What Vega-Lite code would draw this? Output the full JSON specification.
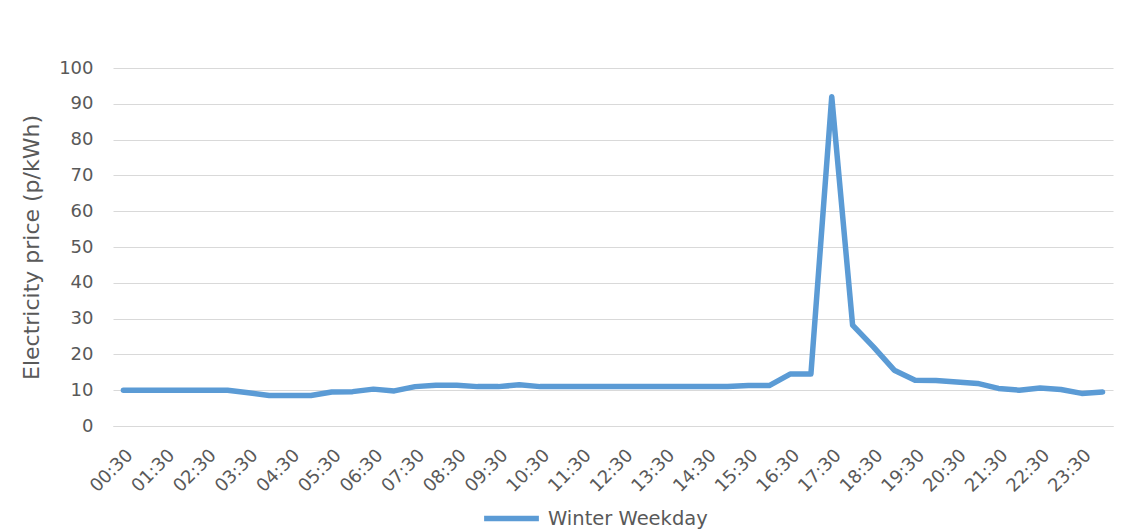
{
  "$schema": "https://vega.github.io/schema/vega-lite/v6.json",
  "autosize": {"type": "none"},
  "width": 1000,
  "height": 358,
  "padding": {"left": 113, "top": 68, "right": 21, "bottom": 105},
  "background": "white",
  "config": {
    "view": {"stroke": null},
    "font": "DejaVu Sans",
    "axis": {"labelColor": "#595959", "titleColor": "#595959", "gridColor": "#d9d9d9", "ticks": false}
  },
  "data": {
    "values": [
      {"time": "00:30", "price": 10.0, "series": "Winter Weekday"},
      {"time": "01:00", "price": 10.0, "series": "Winter Weekday"},
      {"time": "01:30", "price": 10.0, "series": "Winter Weekday"},
      {"time": "02:00", "price": 10.0, "series": "Winter Weekday"},
      {"time": "02:30", "price": 10.0, "series": "Winter Weekday"},
      {"time": "03:00", "price": 10.0, "series": "Winter Weekday"},
      {"time": "03:30", "price": 9.3, "series": "Winter Weekday"},
      {"time": "04:00", "price": 8.5, "series": "Winter Weekday"},
      {"time": "04:30", "price": 8.5, "series": "Winter Weekday"},
      {"time": "05:00", "price": 8.5, "series": "Winter Weekday"},
      {"time": "05:30", "price": 9.5, "series": "Winter Weekday"},
      {"time": "06:00", "price": 9.6, "series": "Winter Weekday"},
      {"time": "06:30", "price": 10.3, "series": "Winter Weekday"},
      {"time": "07:00", "price": 9.8, "series": "Winter Weekday"},
      {"time": "07:30", "price": 11.0, "series": "Winter Weekday"},
      {"time": "08:00", "price": 11.4, "series": "Winter Weekday"},
      {"time": "08:30", "price": 11.4, "series": "Winter Weekday"},
      {"time": "09:00", "price": 11.0, "series": "Winter Weekday"},
      {"time": "09:30", "price": 11.0, "series": "Winter Weekday"},
      {"time": "10:00", "price": 11.5, "series": "Winter Weekday"},
      {"time": "10:30", "price": 11.0, "series": "Winter Weekday"},
      {"time": "11:00", "price": 11.0, "series": "Winter Weekday"},
      {"time": "11:30", "price": 11.0, "series": "Winter Weekday"},
      {"time": "12:00", "price": 11.0, "series": "Winter Weekday"},
      {"time": "12:30", "price": 11.0, "series": "Winter Weekday"},
      {"time": "13:00", "price": 11.0, "series": "Winter Weekday"},
      {"time": "13:30", "price": 11.0, "series": "Winter Weekday"},
      {"time": "14:00", "price": 11.0, "series": "Winter Weekday"},
      {"time": "14:30", "price": 11.0, "series": "Winter Weekday"},
      {"time": "15:00", "price": 11.0, "series": "Winter Weekday"},
      {"time": "15:30", "price": 11.3, "series": "Winter Weekday"},
      {"time": "16:00", "price": 11.3, "series": "Winter Weekday"},
      {"time": "16:30", "price": 14.5, "series": "Winter Weekday"},
      {"time": "17:00", "price": 14.5, "series": "Winter Weekday"},
      {"time": "17:30", "price": 92.0, "series": "Winter Weekday"},
      {"time": "18:00", "price": 28.2, "series": "Winter Weekday"},
      {"time": "18:30", "price": 22.1, "series": "Winter Weekday"},
      {"time": "19:00", "price": 15.6, "series": "Winter Weekday"},
      {"time": "19:30", "price": 12.8, "series": "Winter Weekday"},
      {"time": "20:00", "price": 12.7, "series": "Winter Weekday"},
      {"time": "20:30", "price": 12.3, "series": "Winter Weekday"},
      {"time": "21:00", "price": 11.9, "series": "Winter Weekday"},
      {"time": "21:30", "price": 10.5, "series": "Winter Weekday"},
      {"time": "22:00", "price": 10.0, "series": "Winter Weekday"},
      {"time": "22:30", "price": 10.6, "series": "Winter Weekday"},
      {"time": "23:00", "price": 10.2, "series": "Winter Weekday"},
      {"time": "23:30", "price": 9.1, "series": "Winter Weekday"},
      {"time": "00:00", "price": 9.5, "series": "Winter Weekday"}
    ]
  },
  "mark": {"type": "line", "strokeWidth": 5.5, "strokeJoin": "round", "strokeCap": "round"},
  "encoding": {
    "x": {
      "field": "time",
      "type": "ordinal",
      "sort": null,
      "title": null,
      "axis": {
        "values": ["00:30","01:30","02:30","03:30","04:30","05:30","06:30","07:30","08:30","09:30","10:30","11:30","12:30","13:30","14:30","15:30","16:30","17:30","18:30","19:30","20:30","21:30","22:30","23:30"],
        "labelAngle": -45,
        "labelAlign": "right",
        "labelBaseline": "top",
        "labelFontSize": 18,
        "labelPadding": 20,
        "domainColor": "#d9d9d9",
        "grid": false
      }
    },
    "y": {
      "field": "price",
      "type": "quantitative",
      "scale": {"domain": [0, 100]},
      "title": "Electricity price (p/kWh)",
      "axis": {
        "values": [0,10,20,30,40,50,60,70,80,90,100],
        "domain": false,
        "labelFontSize": 18,
        "labelPadding": 20,
        "titleFontSize": 22,
        "titleFontWeight": "normal",
        "titlePadding": 15
      }
    },
    "color": {
      "field": "series",
      "type": "nominal",
      "scale": {"range": ["#5b9bd5"]},
      "legend": {
        "title": null,
        "orient": "none",
        "legendX": 368,
        "legendY": 420,
        "symbolType": "stroke",
        "symbolSize": 3000,
        "symbolStrokeWidth": 5.5,
        "labelFontSize": 19.5,
        "labelColor": "#595959",
        "labelOffset": 6
      }
    }
  }
}
